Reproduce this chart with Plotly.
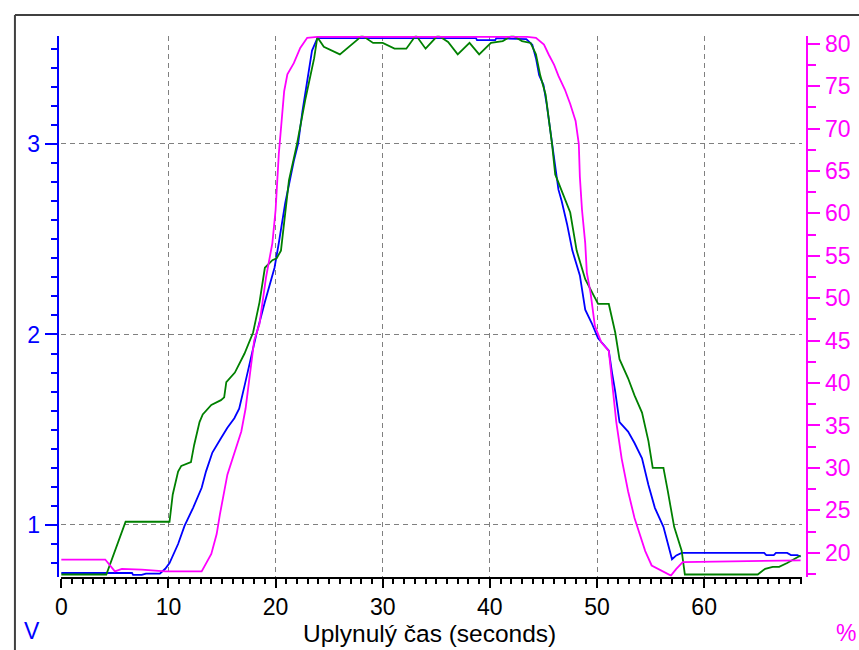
import plotly.graph_objects as go

# ---------------- data ----------------
blue_pts = [(0, 0.748), (4.0, 0.748), (6.6, 0.748), (6.7, 0.738), (7.5, 0.738), (7.9, 0.745),
            (9.2, 0.745), (9.7, 0.77), (10.1, 0.80), (10.9, 0.90), (11.5, 0.995), (12.3, 1.09),
            (13.1, 1.195), (13.5, 1.28), (14.1, 1.38), (14.9, 1.455), (15.5, 1.51), (16.15, 1.56),
            (16.6, 1.61), (17.1, 1.73), (18.2, 2.0), (19.0, 2.17), (19.9, 2.35), (20.3, 2.48),
            (20.9, 2.69), (21.7, 2.91), (22.1, 3.0), (22.5, 3.17), (23.0, 3.36), (23.4, 3.49),
            (23.9, 3.555), (38.7, 3.555), (38.8, 3.545), (40.5, 3.545), (40.6, 3.555), (43.4, 3.55),
            (43.96, 3.52), (44.3, 3.45), (44.6, 3.36), (45.0, 3.31), (45.3, 3.21), (45.8, 3.0),
            (46.1, 2.86), (46.4, 2.76), (46.7, 2.70), (47.2, 2.58), (47.7, 2.44), (48.4, 2.31),
            (48.9, 2.13), (49.5, 2.06), (50.1, 1.98), (51.1, 1.915), (51.4, 1.80), (51.7, 1.70),
            (52.1, 1.54), (52.9, 1.49), (53.5, 1.43), (54.2, 1.35), (54.8, 1.21), (55.4, 1.09),
            (56.2, 0.99), (56.6, 0.90), (57.0, 0.82), (57.4, 0.84), (57.9, 0.853), (65.6, 0.853),
            (65.8, 0.842), (66.5, 0.842), (66.7, 0.853), (67.75, 0.853), (68.1, 0.842), (68.7, 0.842),
            (69.0, 0.833)]

green_pts = [(0, 0.74), (4.2, 0.74), (6.0, 1.017), (10.1, 1.017), (10.4, 1.16), (10.9, 1.28),
             (11.2, 1.31), (12.1, 1.33), (12.4, 1.42), (12.9, 1.54), (13.2, 1.58), (14.0, 1.63),
             (14.9, 1.655), (15.2, 1.67), (15.4, 1.75), (16.2, 1.80), (17.1, 1.9), (17.9, 2.01),
             (18.5, 2.17), (19.0, 2.35), (19.7, 2.39), (20.1, 2.40), (20.5, 2.44), (21.25, 2.81),
             (22.0, 3.0), (22.8, 3.24), (23.6, 3.45), (23.9, 3.56), (24.5, 3.51), (26.0, 3.47),
             (27.7, 3.55), (28.05, 3.57), (29.1, 3.53), (30.0, 3.53), (31.1, 3.50), (32.2, 3.50),
             (33.1, 3.57), (34.0, 3.50), (35.15, 3.57), (36.1, 3.535), (37.0, 3.47), (38.1, 3.53),
             (39.0, 3.47), (40.1, 3.53), (41.2, 3.54), (42.1, 3.57), (43.0, 3.54), (43.8, 3.53),
             (44.3, 3.47), (44.7, 3.36), (45.2, 3.26), (45.5, 3.14), (45.8, 3.0), (46.1, 2.84),
             (46.6, 2.77), (47.0, 2.72), (47.5, 2.64), (48.1, 2.44), (48.9, 2.29), (50.1, 2.16),
             (51.1, 2.16), (51.7, 2.01), (52.1, 1.87), (52.9, 1.77), (53.5, 1.68), (54.2, 1.59),
             (54.8, 1.44), (55.2, 1.30), (56.2, 1.30), (56.6, 1.18), (57.2, 0.99), (57.9, 0.865),
             (58.2, 0.74), (65.0, 0.74), (65.7, 0.77), (66.4, 0.78), (67.0, 0.78), (67.75, 0.80),
             (68.4, 0.82), (69.0, 0.84)]

magenta_pts = [(0, 19.2), (4.1, 19.2), (5.0, 17.8), (5.65, 18.1), (7.5, 18.0), (9.7, 17.8),
               (13.1, 17.8), (14.0, 19.85), (14.5, 22.2), (14.8, 24.5), (15.5, 29.2), (16.0, 31.1),
               (16.8, 34.3), (17.2, 37.0), (17.5, 40.1), (18.0, 45.0), (18.5, 47.0), (19.1, 52.4),
               (19.7, 56.5), (20.0, 60.4), (20.3, 67.0), (20.6, 70.9), (20.8, 74.4), (21.1, 76.4),
               (21.7, 77.7), (22.3, 79.5), (22.95, 80.7), (23.9, 80.8), (43.5, 80.8), (44.3, 80.7),
               (45.05, 79.9), (45.5, 78.7), (46.0, 77.5), (46.4, 76.2), (47.0, 74.6), (47.5, 72.9),
               (48.0, 70.9), (48.3, 68.2), (48.4, 64.3), (48.6, 60.4), (48.9, 56.5), (49.05, 53.0),
               (49.4, 50.6), (49.8, 46.75), (50.4, 44.8), (51.1, 43.8), (51.4, 40.5), (51.8, 35.4),
               (52.3, 31.1), (52.9, 27.25), (53.5, 24.1), (54.5, 20.2), (55.1, 18.5), (56.3, 17.7),
               (56.9, 17.3), (57.4, 18.1), (58.0, 18.9), (69.0, 19.1)]

x_label_vals = [0, 10, 20, 30, 40, 50, 60]
x_half_vals = [5, 15, 25, 35, 45, 55, 65]
v_label_vals = [1, 2, 3]
v_half_vals = [1.5, 2.5, 3.5]

x_title = "Uplynulý čas (seconds)"
left_unit = "V"
right_unit = "%"

# ---------------- layout geometry (pixels) ----------------
W, H = 859, 650
px = lambda x: x / W
py = lambda y: 1 - y / H

XL, XR = 55, 802          # plot area x
YT, YB = 31, 576          # plot area y
LEFT_AX, RIGHT_AX = 52, 807

x_range = [-0.065, 69.17]
v_range = [3 - (YB - 140) / 192, 3 + (140 - YT) / 192]
p_range = [80 - (YB - 39) / 8.55, 80 + (39 - YT) / 8.55]

FONT = "Liberation Sans, Arial, sans-serif"
FS = 23
BLUE, GREEN, MAG = "#0000ff", "#008000", "#ff00ff"
GRID = "#808080"
LW = 1.8

fig = go.Figure()
fig.add_trace(go.Scatter(x=[p[0] for p in blue_pts], y=[p[1] for p in blue_pts],
                         mode="lines", line=dict(color=BLUE, width=LW), yaxis="y"))
fig.add_trace(go.Scatter(x=[p[0] for p in green_pts], y=[p[1] for p in green_pts],
                         mode="lines", line=dict(color=GREEN, width=LW), yaxis="y"))
fig.add_trace(go.Scatter(x=[p[0] for p in magenta_pts], y=[p[1] for p in magenta_pts],
                         mode="lines", line=dict(color=MAG, width=LW), yaxis="y2"))

common_grid = dict(gridcolor=GRID, gridwidth=1, griddash="5px,4px")

fig.update_layout(
    width=W, height=H,
    margin=dict(l=0, r=0, t=0, b=0),
    paper_bgcolor="white", plot_bgcolor="white",
    showlegend=False,
    font=dict(family=FONT, size=FS, color="black"),
    xaxis=dict(
        domain=[px(XL), px(XR)], range=x_range, anchor="y",
        showline=True, linecolor="black", linewidth=2,
        tickmode="array", tickvals=x_label_vals, ticktext=[str(v) for v in x_label_vals],
        ticks="outside", ticklen=9, tickwidth=2, tickcolor="black",
        tickfont=dict(family=FONT, size=FS, color="black"),
        showgrid=True, zeroline=False, **common_grid,
        minor=dict(dtick=1, tick0=0, ticks="outside", ticklen=5, tickwidth=2,
                   tickcolor="black", showgrid=False),
    ),
    xaxis2=dict(
        domain=[px(XL), px(XR)], range=x_range, anchor="y", overlaying="x",
        tickmode="array", tickvals=x_half_vals, showticklabels=False,
        ticks="outside", ticklen=9, tickwidth=2, tickcolor="black",
        showgrid=False, zeroline=False, showline=False,
    ),
    yaxis=dict(
        domain=[py(YB), py(YT)], range=v_range, anchor="free", position=px(LEFT_AX),
        side="left", showline=True, linecolor=BLUE, linewidth=2,
        tickmode="array", tickvals=v_label_vals, ticktext=[str(v) for v in v_label_vals],
        ticks="outside", ticklen=12, tickwidth=2, tickcolor=BLUE,
        tickfont=dict(family=FONT, size=FS, color=BLUE),
        showgrid=True, zeroline=False, **common_grid,
        minor=dict(dtick=0.1, tick0=0, ticks="outside", ticklen=6, tickwidth=2,
                   tickcolor=BLUE, showgrid=False),
    ),
    yaxis3=dict(
        domain=[py(YB), py(YT)], range=v_range, anchor="free", position=px(LEFT_AX),
        overlaying="y", side="left", showline=False,
        tickmode="array", tickvals=v_half_vals, showticklabels=False,
        ticks="outside", ticklen=9, tickwidth=2, tickcolor=BLUE,
        showgrid=False, zeroline=False,
    ),
    yaxis2=dict(
        domain=[py(YB), py(YT)], range=p_range, anchor="free", position=px(RIGHT_AX),
        overlaying="y", side="right", showline=True, linecolor=MAG, linewidth=2,
        dtick=5, tick0=0, ticks="outside", ticklen=12, tickwidth=2, tickcolor=MAG,
        tickfont=dict(family=FONT, size=FS, color=MAG),
        showgrid=False, zeroline=False,
        minor=dict(dtick=2.5, tick0=0, ticks="outside", ticklen=8, tickwidth=2,
                   tickcolor=MAG, showgrid=False),
    ),
)

# axis captions
fig.add_annotation(x=px(426), y=py(633), xref="paper", yref="paper", text=x_title,
                   showarrow=False, font=dict(family=FONT, size=24.5, color="black"),
                   xanchor="center", yanchor="middle")
fig.add_annotation(x=px(26), y=py(631), xref="paper", yref="paper", text=left_unit,
                   showarrow=False, font=dict(family=FONT, size=FS, color=BLUE),
                   xanchor="center", yanchor="middle")
fig.add_annotation(x=px(846), y=py(633), xref="paper", yref="paper", text=right_unit,
                   showarrow=False, font=dict(family=FONT, size=FS, color=MAG),
                   xanchor="center", yanchor="middle")

# window frame (dark top and left edges)
fig.add_shape(type="line", xref="paper", yref="paper", x0=px(9), x1=1, y0=py(10), y1=py(10),
              line=dict(color="#404040", width=2))
fig.add_shape(type="line", xref="paper", yref="paper", x0=px(9), x1=px(9), y0=py(10), y1=0,
              line=dict(color="#404040", width=2))

fig.write_html("out.html")
